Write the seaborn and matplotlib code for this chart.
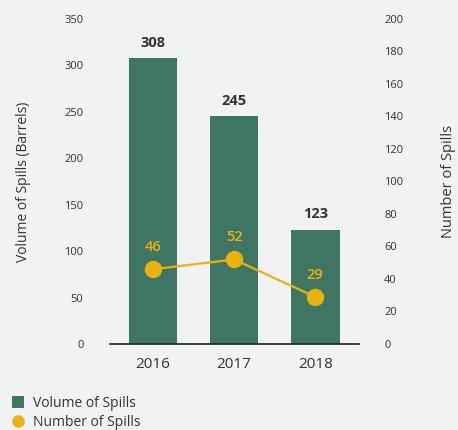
import numpy as np
import pandas as pd
import matplotlib
matplotlib.use("Agg")
import matplotlib.pyplot as plt
import seaborn as sns
from matplotlib.lines import Line2D

# Data
years = ["2016", "2017", "2018"]
volume = [308, 245, 123]        # barrels, left axis
spills = [46, 52, 29]           # count, right axis

bar_color = "#3f7663"
line_color = "#eab20f"
text_color = "#333333"
bg = "#f1f2f4"

sns.set_style("white")
plt.rcParams["font.family"] = ["Open Sans", "DejaVu Sans"]

df = pd.DataFrame({"Year": years, "Volume": volume, "Spills": spills})
df["pos"] = np.arange(len(df))

fig = plt.figure(figsize=(4.58, 4.30), dpi=100, facecolor=bg)
ax = fig.add_axes([0.240, 0.200, 0.544, 0.756])
ax.set_facecolor(bg)

sns.barplot(data=df, x="Year", y="Volume", color=bar_color, width=0.6,
            saturation=1, edgecolor="none", linewidth=0, ax=ax)
ax.set_ylim(0, 350)
ax.set_yticks(range(0, 351, 50))
ax.set_xlim(-0.53, 2.54)
ax.set_xlabel("")
ax.set_ylabel("Volume of Spills (Barrels)", fontsize=10, color=text_color, labelpad=24)
ax.tick_params(axis="y", length=0, pad=19, labelsize=8, labelcolor=text_color)
ax.tick_params(axis="x", length=0, pad=9, labelsize=11, labelcolor=text_color)
for s in ["top", "left", "right"]:
    ax.spines[s].set_visible(False)
ax.spines["bottom"].set_color("#222222")
ax.spines["bottom"].set_linewidth(1.2)

for p, v in zip(df["pos"], df["Volume"]):
    ax.annotate(str(v), (p, v), xytext=(0, 6), textcoords="offset points",
                ha="center", va="bottom", fontsize=10.5, fontweight="bold",
                color=text_color)

ax2 = ax.twinx()
sns.lineplot(data=df, x="pos", y="Spills", color=line_color, marker="o",
             markersize=12.5, markeredgewidth=0, linewidth=1.6, ax=ax2)
ax2.set_ylim(0, 200)
ax2.set_yticks(range(0, 201, 20))
ax2.set_xlim(-0.53, 2.54)
ax2.set_ylabel("Number of Spills", fontsize=10.5, color=text_color, labelpad=27)
ax2.tick_params(axis="y", length=0, pad=18, labelsize=8, labelcolor=text_color)
for s in ["top", "left", "right", "bottom"]:
    ax2.spines[s].set_visible(False)

for p, v in zip(df["pos"], df["Spills"]):
    ax2.annotate(str(v), (p, v), xytext=(0, 11), textcoords="offset points",
                 ha="center", va="bottom", fontsize=10.5, fontweight="semibold",
                 color=line_color)

handles = [
    Line2D([0], [0], marker="s", color="none", markerfacecolor=bar_color,
           markeredgewidth=0, markersize=8, label="Volume of Spills"),
    Line2D([0], [0], marker="o", color="none", markerfacecolor=line_color,
           markeredgewidth=0, markersize=9, label="Number of Spills"),
]
leg = fig.legend(handles=handles, loc="lower left", bbox_to_anchor=(0.0, -0.028),
                 frameon=False, fontsize=10, handlelength=0.8, handletextpad=0.7,
                 labelspacing=0.25)
for t in leg.get_texts():
    t.set_color(text_color)

fig.savefig("out.png", dpi=100, facecolor=bg)
